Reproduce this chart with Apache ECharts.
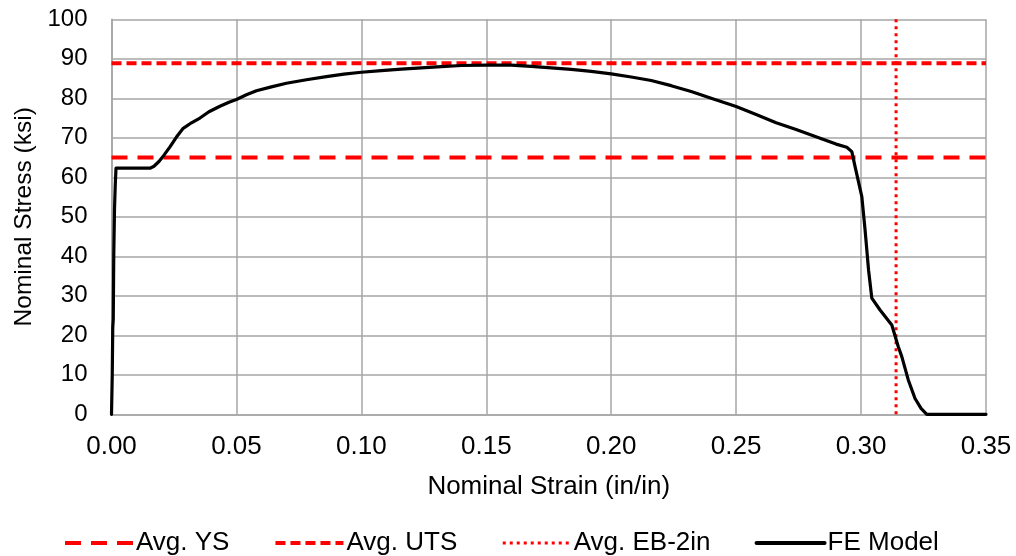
<!DOCTYPE html>
<html>
<head>
<meta charset="utf-8">
<script src="https://cdn.jsdelivr.net/npm/echarts@6/dist/echarts.min.js"></script>
<style>
  html, body { margin: 0; padding: 0; background: #ffffff; }
  #chart { width: 1016px; height: 556px; }
</style>
</head>
<body>
<div id="chart"></div>
<script>
// Finite-element engineering stress-strain curve with average test results
const strain = [0, 0.0003, 0.0005, 0.0007, 0.0009, 0.0012, 0.0015, 0.0018,
  0.0154, 0.0170, 0.0190, 0.0210, 0.0234, 0.0260, 0.0287, 0.0320, 0.0354, 0.0390,
  0.0434, 0.0470, 0.0500, 0.0540, 0.0580, 0.0640, 0.0700, 0.0780, 0.0860, 0.0930,
  0.1000, 0.1080, 0.1160, 0.1240, 0.1320, 0.1400, 0.1500, 0.1600, 0.1680, 0.1760,
  0.1840, 0.1920, 0.2000, 0.2080, 0.2160, 0.2240, 0.2320, 0.2400, 0.2500, 0.2580,
  0.2660, 0.2740, 0.2836, 0.2900, 0.2943, 0.2963, 0.2976, 0.3003, 0.3016, 0.3030,
  0.3043, 0.3076, 0.3123, 0.3149, 0.3163, 0.3189, 0.3216, 0.3240, 0.3263, 0.35];
const stress = [0, 10, 22, 24, 40, 52, 58, 62.3,
  62.3, 62.8, 64.0, 65.6, 67.7, 70.2, 72.4, 73.8, 75.0, 76.6,
  78.0, 79.0, 79.7, 80.9, 81.9, 82.9, 83.8, 84.7, 85.5, 86.1,
  86.6, 87.0, 87.4, 87.7, 88.0, 88.3, 88.4, 88.4, 88.1, 87.7,
  87.3, 86.8, 86.2, 85.4, 84.5, 83.2, 81.7, 80.0, 77.9, 75.9,
  73.8, 72.1, 69.9, 68.4, 67.6, 66.5, 62.7, 55.1, 46.7, 36.5,
  29.4, 26.4, 22.6, 17.1, 14.6, 8.7, 4.0, 1.5, 0, 0];

const avgYS = 65;       // ksi
const avgUTS = 88.9;    // ksi
const avgEB2in = 0.314; // in/in

const xTicks = ['0.00', '0.05', '0.10', '0.15', '0.20', '0.25', '0.30', '0.35'];
const yTicks = ['0', '10', '20', '30', '40', '50', '60', '70', '80', '90', '100'];

const seriesNames = ['Avg. YS', 'Avg. UTS', 'Avg. EB-2in', 'FE Model'];

const feModel = strain.map((s, i) => [s, stress[i]]);
const FONT = 'Liberation Sans, Arial, sans-serif';
const RED = '#ff0000';
const GRID_GREY = '#a6a6a6';

const chart = echarts.init(document.getElementById('chart'), null, { renderer: 'canvas' });

chart.setOption({
  animation: false,
  backgroundColor: '#ffffff',
  textStyle: { fontFamily: FONT },
  grid: { left: 111.5, right: 30, top: 19.3, bottom: 141.7, containLabel: false },
  xAxis: {
    type: 'value',
    min: 0, max: 0.35, interval: 0.05,
    name: 'Nominal Strain (in/in)',
    nameLocation: 'middle',
    nameGap: 60,
    nameTextStyle: { fontFamily: FONT, fontSize: 26, color: '#000' },
    axisLine: { show: true, lineStyle: { color: GRID_GREY, width: 1.5 } },
    axisTick: { show: false },
    axisLabel: {
      fontFamily: FONT, fontSize: 26, color: '#000', margin: 20,
      formatter: v => xTicks[Math.round(v / 0.05)]
    },
    splitLine: { show: true, lineStyle: { color: GRID_GREY, width: 1.5 } }
  },
  yAxis: {
    type: 'value',
    min: 0, max: 100, interval: 10,
    name: 'Nominal Stress (ksi)',
    nameLocation: 'middle',
    nameGap: 69,
    nameTextStyle: { fontFamily: FONT, fontSize: 24.5, color: '#000' },
    axisLine: { show: true, lineStyle: { color: GRID_GREY, width: 1.5 } },
    axisTick: { show: false },
    axisLabel: {
      fontFamily: FONT, fontSize: 24, color: '#000', margin: 24,
      formatter: v => yTicks[Math.round(v / 10)]
    },
    splitLine: { show: true, lineStyle: { color: GRID_GREY, width: 1.5 } }
  },
  legend: {
    top: 525,
    left: 58,
    itemWidth: 68,
    itemHeight: 14,
    itemGap: 44,
    itemStyle: { opacity: 0, borderWidth: 0 },
    textStyle: { fontFamily: FONT, fontSize: 26, color: '#000', padding: [0, 0, 0, -2] },
    data: [
      { name: seriesNames[0], lineStyle: { width: 4 } },
      { name: seriesNames[1], lineStyle: { width: 4 } },
      { name: seriesNames[2], lineStyle: { width: 3 } },
      { name: seriesNames[3], lineStyle: { width: 4 } }
    ]
  },
  series: [
    {
      name: seriesNames[0], type: 'line', symbol: 'none', silent: true,
      data: [[0, avgYS], [0.35, avgYS]],
      lineStyle: { color: RED, width: 4, type: [16, 10] },
      itemStyle: { color: RED }
    },
    {
      name: seriesNames[1], type: 'line', symbol: 'none', silent: true,
      data: [[0, avgUTS], [0.35, avgUTS]],
      lineStyle: { color: RED, width: 4, type: [10, 5] },
      itemStyle: { color: RED }
    },
    {
      name: seriesNames[2], type: 'line', symbol: 'none', silent: true,
      data: [[avgEB2in, 0], [avgEB2in, 100]],
      lineStyle: { color: RED, width: 3, type: [3, 4] },
      itemStyle: { color: RED }
    },
    {
      name: seriesNames[3], type: 'line', symbol: 'none', silent: true,
      data: feModel,
      lineStyle: { color: '#000', width: 3.2, join: 'round', cap: 'round' },
      itemStyle: { color: '#000' }
    }
  ]
});
</script>
</body>
</html>
